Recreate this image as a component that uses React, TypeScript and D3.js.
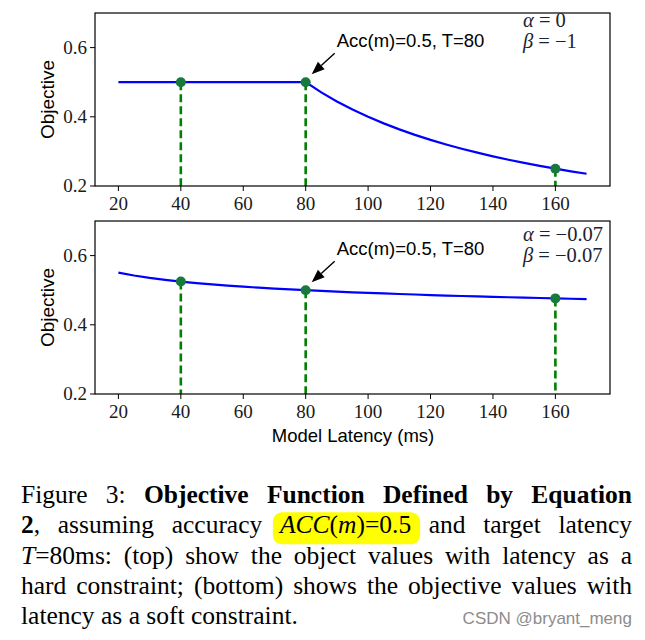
import React, { useLayoutEffect, useRef } from "react";
import * as d3 from "d3";

// ---------- data ----------
const latency = [20, 25, 30, 35, 40, 45, 50, 55, 60, 65, 70, 75, 80, 85, 90, 95, 100, 105, 110, 115, 120, 125, 130, 135, 140, 145, 150, 155, 160, 165, 170];
const hardObjective = [0.5, 0.5, 0.5, 0.5, 0.5, 0.5, 0.5, 0.5, 0.5, 0.5, 0.5, 0.5, 0.5, 0.4706, 0.4444, 0.4211, 0.4, 0.381, 0.3636, 0.3478, 0.3333, 0.32, 0.3077, 0.2963, 0.2857, 0.2759, 0.2667, 0.2581, 0.25, 0.2424, 0.2353];
const softObjective = [0.551, 0.5424, 0.5355, 0.5298, 0.5249, 0.5205, 0.5167, 0.5133, 0.5102, 0.5073, 0.5047, 0.5023, 0.5, 0.4979, 0.4959, 0.494, 0.4923, 0.4906, 0.489, 0.4875, 0.486, 0.4846, 0.4833, 0.482, 0.4808, 0.4796, 0.4785, 0.4774, 0.4763, 0.4753, 0.4743];
const markLatency = [40, 80, 160];
const hardMarks = [0.5, 0.5, 0.25];
const softMarks = [0.5249, 0.5, 0.4763];
const xTicks = [20, 40, 60, 80, 100, 120, 140, 160];
const yTicks = [0.2, 0.4, 0.6];
const annotationX = 80;
const annotationY = 0.5;
const annotationText = "Acc(m)=0.5, T=80";
const hardParams = ["0", "\u22121"];
const softParams = ["\u22120.07", "\u22120.07"];
const xLabel = "Model Latency (ms)";
const yLabel = "Objective";

type Seg = { t: string; b?: boolean; i?: boolean };
type Word = { segs: Seg[]; hl?: boolean };
const w = (t: string, b = false): Word => ({ segs: [{ t, b }] });
const captionLines: { words: Word[]; justify: boolean }[] = [
  {
    justify: true,
    words: [w("Figure"), w("3:"), w("Objective", true), w("Function", true), w("Defined", true), w("by", true), w("Equation", true)],
  },
  {
    justify: true,
    words: [
      { segs: [{ t: "2", b: true }, { t: "," }] },
      w("assuming"),
      w("accuracy"),
      { hl: true, segs: [{ t: "ACC", i: true }, { t: "(" }, { t: "m", i: true }, { t: ")=0.5" }] },
      w("and"),
      w("target"),
      w("latency"),
    ],
  },
  {
    justify: true,
    words: [
      { segs: [{ t: "T", i: true }, { t: "=80ms:" }] },
      w("(top)"), w("show"), w("the"), w("object"), w("values"), w("with"), w("latency"), w("as"), w("a"),
    ],
  },
  {
    justify: true,
    words: [w("hard"), w("constraint;"), w("(bottom)"), w("shows"), w("the"), w("objective"), w("values"), w("with")],
  },
  {
    justify: false,
    words: [w("latency"), w("as"), w("a"), w("soft"), w("constraint.")],
  },
];

// ---------- layout ----------
const W = 645;
const H = 640;
const LEFT = 95;
const RIGHT = 610;
const panels = [
  { top: 13, bottom: 186, values: hardObjective, marks: hardMarks, params: hardParams, showX: false, pY: [14, 35] },
  { top: 221, bottom: 394, values: softObjective, marks: softMarks, params: softParams, showX: true, pY: [20, 41] },
];
const SANS = "'Liberation Sans', Arial, Helvetica, sans-serif";
const SERIF = "'Liberation Serif', 'Times New Roman', serif";
const GREEN_LINE = "#008000";
const GREEN_DOT = "#177a3c";

const xScale = d3.scaleLinear().domain([12.5, 177.5]).range([LEFT, RIGHT]);

function Panel({ p }: { p: (typeof panels)[number] }) {
  const y = d3.scaleLinear().domain([0.2, 0.7]).range([p.bottom, p.top]);
  const line = d3
    .line<number>()
    .x((_, i) => xScale(latency[i]))
    .y((d) => y(d));
  const ax = xScale(annotationX);
  const ay = y(annotationY);
  const tip = [ax + 6, ay - 8];
  const tail = [ax + 29, ay - 29];
  const ang = Math.atan2(tip[1] - tail[1], tip[0] - tail[0]);
  const hl = 13;
  const hw = 5;
  const base = [tip[0] - hl * Math.cos(ang), tip[1] - hl * Math.sin(ang)];
  const head = [
    tip,
    [base[0] + hw * Math.sin(ang), base[1] - hw * Math.cos(ang)],
    [base[0] - hw * Math.sin(ang), base[1] + hw * Math.cos(ang)],
  ];
  return (
    <g>
      {markLatency.map((m, i) => (
        <line
          key={"d" + i}
          x1={xScale(m)}
          x2={xScale(m)}
          y1={y(p.marks[i])}
          y2={p.bottom}
          stroke={GREEN_LINE}
          strokeWidth={2.6}
          strokeDasharray="8,4"
        />
      ))}
      <path d={line(p.values) || ""} fill="none" stroke="#0000ff" strokeWidth={2.2} />
      {markLatency.map((m, i) => (
        <circle key={"c" + i} cx={xScale(m)} cy={y(p.marks[i])} r={5} fill={GREEN_DOT} />
      ))}
      <rect x={LEFT} y={p.top} width={RIGHT - LEFT} height={p.bottom - p.top} fill="none" stroke="#000" strokeWidth={1.2} />
      {xTicks.map((t) => (
        <g key={"x" + t}>
          <line x1={xScale(t)} x2={xScale(t)} y1={p.bottom} y2={p.bottom + 5} stroke="#000" strokeWidth={1} />
          <text x={xScale(t)} y={p.bottom + 24} textAnchor="middle" fontFamily={SERIF} fontSize={19} fill="#1a1a1a">
            {t}
          </text>
        </g>
      ))}
      {yTicks.map((t) => (
        <g key={"y" + t}>
          <line x1={LEFT - 5} x2={LEFT} y1={y(t)} y2={y(t)} stroke="#000" strokeWidth={1} />
          <text x={LEFT - 8} y={y(t)} dy="0.33em" textAnchor="end" fontFamily={SERIF} fontSize={19} fill="#1a1a1a">
            {t.toFixed(1)}
          </text>
        </g>
      ))}
      <text
        transform={`translate(54,${(p.top + p.bottom) / 2}) rotate(-90)`}
        textAnchor="middle"
        fontFamily={SANS}
        fontSize={19}
        fill="#000"
      >
        {yLabel}
      </text>
      <line x1={tail[0]} y1={tail[1]} x2={base[0]} y2={base[1]} stroke="#000" strokeWidth={1.4} />
      <polygon points={head.map((q) => q.join(",")).join(" ")} fill="#000" />
      <text x={ax + 31} y={ay - 35} fontFamily={SANS} fontSize={18.5} fill="#000">
        {annotationText}
      </text>
      <text x={523} y={p.top + p.pY[0]} fontFamily={SERIF} fontSize={20.5} fill="#1c2233">
        <tspan fontStyle="italic">α</tspan>
        <tspan>{" = " + p.params[0]}</tspan>
      </text>
      <text x={523} y={p.top + p.pY[1]} fontFamily={SERIF} fontSize={20.5} fill="#1c2233">
        <tspan fontStyle="italic">β</tspan>
        <tspan>{" = " + p.params[1]}</tspan>
      </text>
      {p.showX && (
        <text x={(LEFT + RIGHT) / 2 + 0.5} y={p.bottom + 48} textAnchor="middle" fontFamily={SANS} fontSize={18.5} fill="#000">
          {xLabel}
        </text>
      )}
    </g>
  );
}

function Caption() {
  const ref = useRef<SVGGElement>(null);
  useLayoutEffect(() => {
    const g = d3.select(ref.current);
    g.selectAll("*").remove();
    const bg = g.append("g");
    const fg = g.append("g");
    const x0 = 21;
    const x1 = 632;
    const fs = 25.5;
    captionLines.forEach((ln, li) => {
      const by = 503 + li * 30.3;
      const nodes = ln.words.map((wd) => {
        const t = fg
          .append("text")
          .attr("y", by)
          .attr("font-family", SERIF)
          .attr("font-size", fs)
          .attr("fill", "#000");
        wd.segs.forEach((s) => {
          t.append("tspan")
            .text(s.t)
            .attr("font-weight", s.b ? "bold" : "normal")
            .attr("font-style", s.i ? "italic" : "normal");
        });
        const width = (t.node() as SVGTextElement).getComputedTextLength();
        return { t, width, hl: !!wd.hl };
      });
      const total = nodes.reduce((a, n) => a + n.width, 0);
      const gap = ln.justify && nodes.length > 1 ? (x1 - x0 - total) / (nodes.length - 1) : fs * 0.25;
      let x = x0;
      nodes.forEach((n) => {
        n.t.attr("x", x);
        if (n.hl) {
          bg.append("rect")
            .attr("x", x - 7)
            .attr("y", by - 21)
            .attr("width", n.width + 16)
            .attr("height", 32)
            .attr("rx", 9)
            .attr("fill", "#ffff00");
        }
        x += n.width + gap;
      });
    });
    g.append("text")
      .attr("x", 632)
      .attr("y", 624)
      .attr("text-anchor", "end")
      .attr("font-family", SANS)
      .attr("font-size", 17)
      .attr("fill", "#8c8c8c")
      .text("CSDN @bryant_meng");
  }, []);
  return <g ref={ref} />;
}

export default function App() {
  return (
    <svg
      width={W}
      height={H}
      viewBox={`0 0 ${W} ${H}`}
      style={{ position: "absolute", left: 0, top: 0, background: "#fff" }}
    >
      <rect width={W} height={H} fill="#fff" />
      {panels.map((p, i) => (
        <Panel key={i} p={p} />
      ))}
      <Caption />
    </svg>
  );
}
